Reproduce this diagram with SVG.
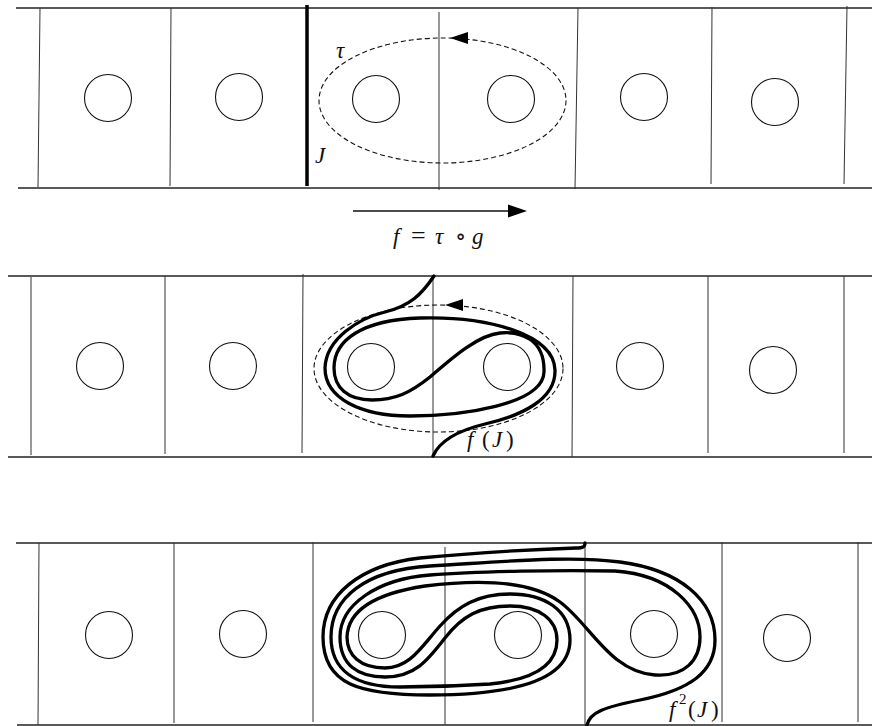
<svg xmlns="http://www.w3.org/2000/svg" width="872" height="726" viewBox="0 0 872 726">
<defs>
<style>
.h{stroke:#222;stroke-width:1.4;fill:none}
.v{stroke:#333;stroke-width:1;fill:none}
.c{stroke:#111;stroke-width:1.1;fill:none}
.d{stroke:#111;stroke-width:1.1;fill:none;stroke-dasharray:5 3}
.k{stroke:#000;stroke-width:3.3;fill:none;stroke-linecap:round;stroke-linejoin:round}
.t{font-family:"Liberation Serif","DejaVu Serif",serif;font-size:23px;fill:#111}
.i{font-style:italic}
</style>
</defs>
<rect width="872" height="726" fill="#fff"/>

<g id="panel1">
  <g id="p1-grid">
    <line class="h" x1="16" y1="8" x2="872" y2="8"/>
    <line class="h" x1="18" y1="188" x2="872" y2="188"/>
    <line class="v" x1="40" y1="8" x2="38" y2="187"/>
    <line class="v" x1="171" y1="8" x2="170" y2="186"/>
    <line class="v" x1="439" y1="12" x2="439" y2="190"/>
    <line class="v" x1="578" y1="8" x2="575" y2="189"/>
    <line class="v" x1="712" y1="7" x2="711" y2="184"/>
    <line class="v" x1="847" y1="6" x2="844" y2="184"/>
  </g>
  <g id="p1-J"><line x1="307" y1="5" x2="307" y2="186" stroke="#000" stroke-width="3.5"/></g>
  <g id="p1-c1"><circle class="c" cx="108" cy="98" r="23.5"/></g>
  <g id="p1-c2"><circle class="c" cx="239" cy="97" r="23.5"/></g>
  <g id="p1-c3"><circle class="c" cx="376" cy="99" r="23.5"/></g>
  <g id="p1-c4"><circle class="c" cx="511" cy="99" r="23.5"/></g>
  <g id="p1-c5"><circle class="c" cx="644" cy="97" r="23.5"/></g>
  <g id="p1-c6"><circle class="c" cx="775" cy="102" r="23.5"/></g>
  <g id="p1-tau">
    <ellipse class="d" cx="442.5" cy="100.5" rx="123.5" ry="62.5"/>
    <polygon points="450,38 468,32 468,44" fill="#000"/>
  </g>
  <text class="t i" x="336" y="58">τ</text>
  <text class="t i" x="315" y="163">J</text>
</g>

<g id="connectors">
  <line x1="353" y1="211" x2="510" y2="211" stroke="#111" stroke-width="1.3"/>
  <polygon points="527,211 508,204.5 508,217.5" fill="#000"/>
</g>
<text class="t" y="244"><tspan class="i" x="393">f</tspan><tspan x="411" style="font-size:26px">=</tspan><tspan class="i" x="435">τ</tspan><tspan x="455">∘</tspan><tspan class="i" x="472">g</tspan></text>

<g id="panel2">
  <g id="p2-grid">
    <line class="h" x1="8" y1="276" x2="872" y2="276"/>
    <line class="h" x1="8" y1="457" x2="872" y2="457"/>
    <line class="v" x1="31" y1="277" x2="31" y2="455"/>
    <line class="v" x1="165" y1="276" x2="165" y2="454"/>
    <line class="v" x1="303" y1="274" x2="302" y2="453"/>
    <line class="v" x1="433" y1="275" x2="433" y2="457"/>
    <line class="v" x1="573" y1="276" x2="572" y2="457"/>
    <line class="v" x1="708" y1="276" x2="708" y2="453"/>
    <line class="v" x1="844" y1="276" x2="844" y2="453"/>
  </g>
  <g id="p2-c1"><circle class="c" cx="100" cy="366" r="23.5"/></g>
  <g id="p2-c2"><circle class="c" cx="233" cy="366" r="23.5"/></g>
  <g id="p2-c3"><circle class="c" cx="371" cy="367" r="23.5"/></g>
  <g id="p2-c4"><circle class="c" cx="507" cy="367" r="23.5"/></g>
  <g id="p2-c5"><circle class="c" cx="640" cy="366" r="23.5"/></g>
  <g id="p2-c6"><circle class="c" cx="773" cy="370" r="23.5"/></g>
  <g id="p2-tau">
    <ellipse class="d" cx="438.5" cy="368.5" rx="124.5" ry="63.5"/>
    <polygon points="445,305 463,299 463,311" fill="#000"/>
  </g>
  <g id="p2-fJ">
    <path class="k" d="M 434 276 C 422 294, 410 306, 385 312 C 360 318, 326 338, 325 368 C 325 398, 360 416, 410 416 C 460 416, 543 405, 544 372 C 545 340, 522 331, 500 333 C 478 335, 452 358, 430 377 C 410 393, 395 400, 372 400 C 348 400, 334 388, 334 368 C 334 340, 362 320, 420 318 C 490 316, 554 335, 555 370 C 556 400, 520 416, 485 424 C 460 430, 440 440, 433 456"/>
  </g>
  <text class="t" y="447"><tspan class="i" x="467">f</tspan><tspan x="482">(</tspan><tspan class="i" x="492">J</tspan><tspan x="506">)</tspan></text>
</g>

<g id="panel3">
  <g id="p3-grid">
    <line class="h" x1="16" y1="543" x2="872" y2="543"/>
    <line class="h" x1="17" y1="725" x2="872" y2="725"/>
    <line class="v" x1="39" y1="543" x2="38" y2="725"/>
    <line class="v" x1="174" y1="543" x2="174" y2="723"/>
    <line class="v" x1="313" y1="542" x2="313" y2="722"/>
    <line class="v" x1="445" y1="547" x2="445" y2="725"/>
    <line class="v" x1="585" y1="543" x2="585" y2="725"/>
    <line class="v" x1="722" y1="542" x2="722" y2="722"/>
    <line class="v" x1="858" y1="542" x2="858" y2="722"/>
  </g>
  <g id="p3-c1"><circle class="c" cx="109" cy="635" r="23.5"/></g>
  <g id="p3-c2"><circle class="c" cx="243" cy="634" r="23.5"/></g>
  <g id="p3-c3"><circle class="c" cx="382" cy="635" r="23.5"/></g>
  <g id="p3-c4"><circle class="c" cx="518" cy="635" r="23.5"/></g>
  <g id="p3-c5"><circle class="c" cx="654" cy="634" r="23.5"/></g>
  <g id="p3-c6"><circle class="c" cx="787" cy="638" r="23.5"/></g>
  <g id="p3-f2J">
    <path class="k" d="M 585 543 C 585 547, 583 548, 576 548 C 520 550, 470 553, 420 558 C 360 565, 323 595, 323 637 C 323 685, 360 695, 430 695 C 500 695, 570 685, 570 640 C 570 610, 545 594, 510 594 C 478 594, 458 606, 440 626 C 422 646, 410 668, 385 668 C 360 668, 347 655, 347 637 C 348 612, 372 594, 425 586 C 480 579, 530 580, 560 602 C 590 624, 610 672, 655 675 C 685 677, 700 660, 700 637 C 700 608, 672 575, 615 571 C 560 570, 480 571, 430 575 C 377 579, 340 605, 340 637 C 340 665, 358 677, 385 677 C 415 677, 428 660, 445 638 C 462 616, 480 606, 510 606 C 540 606, 557 620, 557 640 C 557 668, 530 680, 490 684 C 460 686, 420 687, 400 687 C 355 687, 331 670, 331 637 C 331 598, 365 570, 430 566 C 500 562, 570 555, 620 562 C 680 570, 715 600, 715 640 C 715 672, 690 690, 640 700 C 605 707, 590 712, 587 725"/>
  </g>
  <text class="t" y="717"><tspan class="i" x="669">f</tspan><tspan x="679" y="704" style="font-size:15px">2</tspan><tspan x="688" y="717">(</tspan><tspan class="i" x="697">J</tspan><tspan x="711">)</tspan></text>
</g>
</svg>
